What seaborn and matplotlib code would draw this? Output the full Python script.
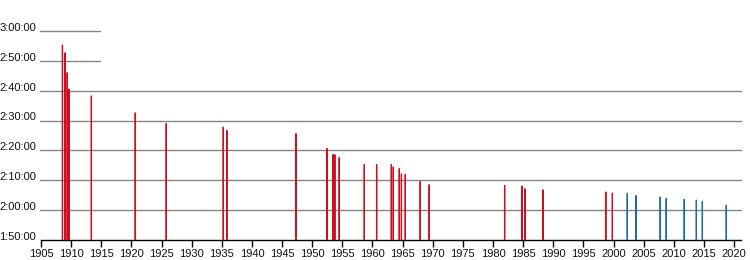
import matplotlib
matplotlib.use("Agg")
import matplotlib.pyplot as plt
import matplotlib.transforms as mtransforms
import numpy as np
import pandas as pd
import seaborn as sns

# Marathon world-record progression (date, time, era)
dates = [
    "1908-07-24", "1909-01-01", "1909-05-08", "1909-08-31", "1913-05-12",
    "1920-08-22", "1925-10-13", "1935-03-31", "1935-11-03", "1947-04-19",
    "1952-06-14", "1953-06-13", "1953-10-04", "1954-06-26", "1958-08-24",
    "1960-09-10", "1963-02-17", "1963-06-15", "1964-06-13", "1964-10-21",
    "1965-06-12", "1967-12-03", "1969-05-30", "1981-12-06", "1984-10-21",
    "1985-04-20", "1988-04-17", "1998-09-20", "1999-10-24",
    "2002-04-14", "2003-09-28", "2007-09-30", "2008-09-28", "2011-09-25",
    "2013-09-29", "2014-09-28", "2018-09-16",
]
times = [
    "2:55:18", "2:52:45", "2:46:05", "2:40:34", "2:38:16",
    "2:32:36", "2:29:02", "2:27:49", "2:26:42", "2:25:39",
    "2:20:42", "2:18:40", "2:18:35", "2:17:39", "2:15:17",
    "2:15:16", "2:15:16", "2:14:28", "2:13:55", "2:12:11",
    "2:12:00", "2:09:36", "2:08:34", "2:08:18", "2:08:05",
    "2:07:12", "2:06:50", "2:06:05", "2:05:42",
    "2:05:38", "2:04:55", "2:04:26", "2:03:59", "2:03:38",
    "2:03:23", "2:02:57", "2:01:39",
]
era = ["early"] * 29 + ["recent"] * 8

y_ticks_min = [110, 120, 130, 140, 150, 160, 170, 180]
x_ticks = list(range(1905, 2021, 5))

RED = "#cc1020"
BLUE = "#1f6aa5"
GRID = "#858585"


def to_minutes(t):
    h, m, s = (int(v) for v in t.split(":"))
    return h * 60 + m + s / 60.0


def to_year(d):
    ts = pd.Timestamp(d)
    start = pd.Timestamp(year=ts.year, month=1, day=1)
    end = pd.Timestamp(year=ts.year + 1, month=1, day=1)
    return ts.year + (ts - start) / (end - start)


df = pd.DataFrame({
    "year": [to_year(d) for d in dates],
    "minutes": [to_minutes(t) for t in times],
    "era": era,
})

sns.set_theme(style="white")
plt.rcParams["font.family"] = ["Liberation Sans", "DejaVu Sans"]
plt.rcParams["font.size"] = 8

fig = plt.figure(figsize=(7.5, 2.6), dpi=100)
ax = fig.add_axes([41 / 750, 20 / 260, 699.7 / 750, 209 / 260])

min_gap = np.min(np.diff(np.sort(df["year"].unique())))
bar_years = 0.02
sns.barplot(data=df, x="year", y="minutes", hue="era", native_scale=True,
            palette={"early": RED, "recent": BLUE}, dodge=False,
            width=bar_years / min_gap, errorbar=None, legend=False,
            saturation=1, ax=ax, zorder=3)
for p in ax.patches:
    p.set_edgecolor(p.get_facecolor())
    p.set_linewidth(0.9)
    p.set_snap(False)

ax.set_xlim(1905, 2021.1)
ax.set_ylim(110, 180)

# gridlines
for v in y_ticks_min[1:]:
    if v >= 170:
        ax.axhline(v, xmin=-0.002, xmax=0.085, color=GRID, lw=1, zorder=1, clip_on=False)
    else:
        ax.axhline(v, xmin=-0.002, xmax=1, color=GRID, lw=1, zorder=1, clip_on=False)

ax.set_yticks(y_ticks_min)
ax.set_yticklabels([f"{v // 60}:{v % 60:02d}:00" for v in y_ticks_min])
ax.set_xticks(x_ticks)
ax.set_xticklabels([str(x) for x in x_ticks])

ax.tick_params(axis="y", length=0, pad=3.5, labelsize=8, colors="#111111")
ax.tick_params(axis="x", length=5, width=1, pad=1.5, labelsize=8,
               colors="#111111", direction="out", bottom=True)
ax.xaxis.set_tick_params(color="black")

offset = mtransforms.ScaledTranslation(0, 3 / 72, fig.dpi_scale_trans)
for lbl in ax.get_yticklabels():
    lbl.set_transform(lbl.get_transform() + offset)

for s in ["left", "right", "top"]:
    ax.spines[s].set_visible(False)
ax.spines["bottom"].set_color("black")
ax.spines["bottom"].set_linewidth(1)
ax.set_xlabel("")
ax.set_ylabel("")
ax.patch.set_alpha(0)

fig.savefig("out.png", dpi=100)
